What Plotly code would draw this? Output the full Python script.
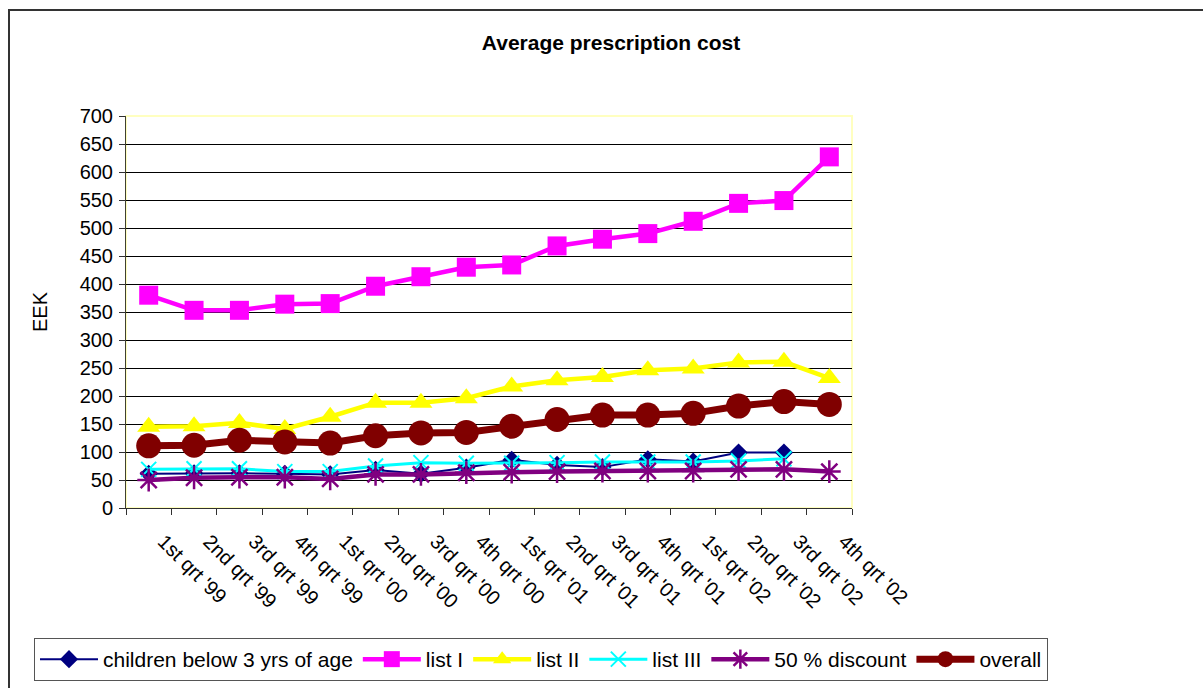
import plotly.graph_objects as go

quarters = ["1st qrt '99", "2nd qrt '99", "3rd qrt '99", "4th qrt '99",
            "1st qrt '00", "2nd qrt '00", "3rd qrt '00", "4th qrt '00",
            "1st qrt '01", "2nd qrt '01", "3rd qrt '01", "4th qrt '01",
            "1st qrt '02", "2nd qrt '02", "3rd qrt '02", "4th qrt '02"]

children = [61, 62, 62, 61, 60, 68, 61, 72, 86, 77, 73, 87, 83, 99, 99, None]
list_1 = [380, 353, 353, 364, 365, 396, 413, 430, 434, 468, 480, 490, 512, 544, 549, 627]
list_2 = [145, 146, 152, 141, 163, 188, 188, 196, 217, 228, 234, 246, 249, 260, 261, 232]
list_3 = [69, 70, 70, 65, 65, 75, 81, 80, 80, 81, 82, 82, 82, 84, 88, None]
discount = [50, 54, 55, 55, 52, 60, 60, 63, 64, 65, 66, 66, 66, 69, 69, 65]
overall = [111, 112, 121, 118, 116, 129, 134, 135, 146, 158, 166, 166, 169, 182, 190, 185]

y_ticks = list(range(0, 701, 50))

FONT = "Liberation Sans, Arial, sans-serif"

fig = go.Figure()

fig.add_trace(go.Scatter(
    x=quarters, y=children, name="children below 3 yrs of age", mode="lines+markers",
    line=dict(color="#000080", width=2),
    marker=dict(symbol="diamond", size=14, color="#000080")))
fig.add_trace(go.Scatter(
    x=quarters, y=list_1, name="list I", mode="lines+markers",
    line=dict(color="#FF00FF", width=4.5),
    marker=dict(symbol="square", size=19, color="#FF00FF")))
fig.add_trace(go.Scatter(
    x=quarters, y=list_2, name="list II", mode="lines+markers",
    line=dict(color="#FFFF00", width=4.5),
    marker=dict(symbol="triangle-up", size=20, color="#FFFF00")))
fig.add_trace(go.Scatter(
    x=quarters, y=list_3, name="list III", mode="lines+markers",
    line=dict(color="#00FFFF", width=3),
    marker=dict(symbol="x-thin-open", size=15, color="#00FFFF",
                line=dict(color="#00FFFF", width=2))))
fig.add_trace(go.Scatter(
    x=quarters, y=discount, name="50 % discount", mode="lines+markers",
    line=dict(color="#800080", width=4.5),
    marker=dict(symbol="asterisk-open", size=19, color="#800080",
                line=dict(color="#800080", width=2.5))))
fig.add_trace(go.Scatter(
    x=quarters, y=overall, name="overall", mode="lines+markers",
    line=dict(color="#800000", width=7),
    marker=dict(symbol="circle", size=25, color="#800000")))

L, T, W, H = 126, 116, 726, 392
FW, FH = 1203, 688

def px_x(p):
    return (p - L) / W

def px_y(p):
    return (T + H - p) / H

fig.update_layout(
    width=FW, height=FH,
    margin=dict(l=L, r=FW - L - W, t=T, b=FH - T - H, pad=0, autoexpand=False),
    paper_bgcolor="white", plot_bgcolor="white",
    font=dict(family=FONT, size=20, color="black"),
    title=dict(text="<b>Average prescription cost</b>", x=611 / FW, xanchor="center",
               y=1 - 43 / FH, yanchor="middle", yref="container", xref="container",
               font=dict(family=FONT, size=21, color="black")),
    showlegend=True,
    legend=dict(orientation="h", x=px_x(1048), xanchor="right", y=px_y(638), yanchor="top",
                bordercolor="#555555", borderwidth=1, bgcolor="white",
                font=dict(family=FONT, size=21, color="black"),
                itemwidth=58, tracegroupgap=0, traceorder="normal",
                itemsizing="trace"),
    xaxis=dict(type="category", range=[-0.5, 15.5], showgrid=False,
               showline=True, linecolor="#303030", linewidth=1,
               ticks="outside", ticklen=6, tickcolor="#303030", tickson="boundaries",
               tickangle=45, tickfont=dict(family=FONT, size=20, color="black"),
               ticklabelstandoff=13, ticklabelshift=15,
               zeroline=False, fixedrange=True),
    yaxis=dict(range=[0, 700], tickvals=y_ticks, showgrid=True, gridcolor="black",
               gridwidth=1, showline=True, linecolor="#404030", linewidth=1,
               ticks="outside", ticklen=6, tickcolor="#303030",
               tickfont=dict(family=FONT, size=20, color="black"),
               ticklabelstandoff=2, zeroline=False, fixedrange=True),
    shapes=[
        dict(type="rect", xref="paper", yref="paper", x0=0, x1=1, y0=0, y1=1,
             line=dict(color="#FFFFC0", width=2), layer="below"),
        dict(type="rect", xref="paper", yref="paper", x0=px_x(9), x1=px_x(1230),
             y0=px_y(10), y1=px_y(720), line=dict(color="#333333", width=2),
             layer="above"),
    ],
    annotations=[
        dict(text="EEK", xref="paper", yref="paper", x=px_x(40), y=px_y(312),
             xanchor="center", yanchor="middle", textangle=-90, showarrow=False,
             font=dict(family=FONT, size=20, color="black")),
    ],
)

fig.write_html("out.html", config={"displayModeBar": False},
               post_script="document.body.style.margin='0';document.body.style.overflow='hidden';")
